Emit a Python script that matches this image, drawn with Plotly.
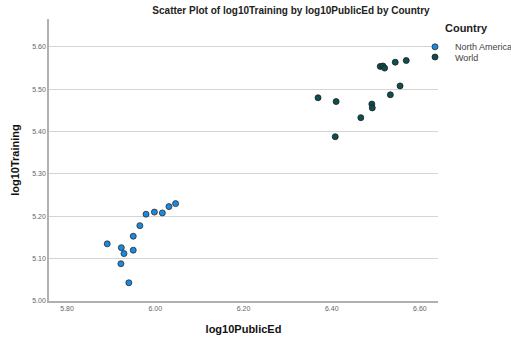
import plotly.graph_objects as go

# North America
na_x = [6.046, 6.031, 6.016, 5.998, 5.979, 5.965, 5.950, 5.891, 5.923, 5.929, 5.950, 5.922, 5.940]
na_y = [5.230, 5.223, 5.208, 5.210, 5.205, 5.178, 5.153, 5.135, 5.126, 5.112, 5.120, 5.088, 5.043]

# World
w_x = [6.569, 6.544, 6.510, 6.516, 6.520, 6.555, 6.533, 6.369, 6.410, 6.491, 6.492, 6.466, 6.408]
w_y = [5.568, 5.564, 5.554, 5.555, 5.550, 5.508, 5.487, 5.480, 5.471, 5.465, 5.456, 5.433, 5.388]

x_ticks = [5.8, 6.0, 6.2, 6.4, 6.6]
y_ticks = [5.0, 5.1, 5.2, 5.3, 5.4, 5.5, 5.6]

FONT = "Liberation Sans, Arial, sans-serif"

fig = go.Figure()
fig.add_trace(go.Scatter(
    x=na_x, y=na_y, mode="markers", name="North America", legend="legend", showlegend=True,
    marker=dict(size=6, color="#1a8ae0", line=dict(color="#2b2b2b", width=0.8)),
))
fig.add_trace(go.Scatter(
    x=w_x, y=w_y, mode="markers", name="World", legend="legend2", showlegend=True,
    marker=dict(size=6, color="#0d4f4e", line=dict(color="#1e1e1e", width=0.8)),
))

PL, PT, PW, PH = 49, 19, 389, 282
def px_x(p):
    return (p - PL) / PW
def px_y(p):
    return 1 - (p - PT) / PH

LEG_LEFT = 415
leg_font = dict(family=FONT, size=9, color="#444444")

fig.update_layout(
    width=511, height=344, showlegend=True,
    margin=dict(l=PL, r=511 - PL - PW, t=PT, b=344 - PT - PH, autoexpand=False),
    paper_bgcolor="white", plot_bgcolor="white",
    font=dict(family=FONT, size=8, color="#555555"),
    title=dict(
        text="<b>Scatter Plot of log10Training by log10PublicEd by Country</b>",
        x=291 / 511, xref="container", xanchor="center",
        y=1 - 10 / 344, yref="container", yanchor="middle",
        font=dict(family=FONT, size=10, color="#222222"),
    ),
    xaxis=dict(
        range=[5.759, 6.641], tickvals=x_ticks, tickformat=".2f",
        showgrid=False, zeroline=False,
        showline=True, linecolor="#b0b0b0", linewidth=1.5,
        ticks="", tickfont=dict(size=7, color="#666666"),
        title=dict(text="<b>log10PublicEd</b>", font=dict(family=FONT, size=11, color="#111111"), standoff=14),
    ),
    yaxis=dict(
        range=[5.0, 5.666], tickvals=y_ticks, tickformat=".2f",
        showgrid=True, gridcolor="#d4d4d4", gridwidth=1, zeroline=False,
        showline=True, linecolor="#b0b0b0", linewidth=1.5,
        ticks="", tickfont=dict(size=7, color="#666666"),
        title=dict(text="<b>log10Training</b>", font=dict(family=FONT, size=11, color="#111111"), standoff=10),
    ),
    legend=dict(
        x=px_x(LEG_LEFT), xanchor="left",
        y=px_y(18), yanchor="top",
        bgcolor="rgba(0,0,0,0)",
        font=leg_font,
        title=dict(text="<b>Country</b>", side="top center", font=dict(family=FONT, size=11, color="#222222")),
    ),
    legend2=dict(
        x=px_x(LEG_LEFT), xanchor="left",
        y=px_y(57), yanchor="middle",
        bgcolor="rgba(0,0,0,0)",
        font=leg_font,
    ),
)

fig.write_html("out.html")
